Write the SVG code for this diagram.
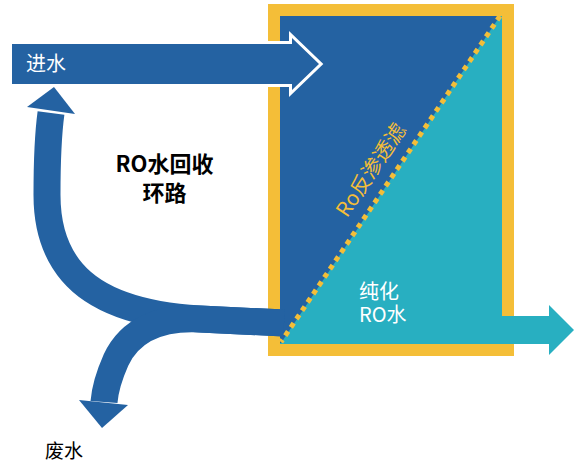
<svg xmlns="http://www.w3.org/2000/svg" width="582" height="463" viewBox="0 0 582 463">
<style>
.blue{fill:#2462a2}
.teal{fill:#28afc1}
.yel{fill:#f4be38}
.band{fill:none;stroke:#2462a2;stroke-width:27;stroke-linecap:butt;stroke-linejoin:round}
.t{font-family:"Noto Sans CJK SC","Noto Sans",sans-serif}
</style>
<rect width="582" height="463" fill="#ffffff"/>
<g id="ro-unit">
  <rect class="yel" x="268" y="4" width="246" height="352"/>
  <rect class="teal" x="280" y="16" width="222" height="328"/>
  <polygon class="blue" points="280,16 500,16 281,343 280,343"/>
</g>
<g id="connectors">
  <path id="recycle" class="band" d="M284 323 L200 319 C150 316 100 305 72 272 C55 252 47 225 47 195 C47 160 48 135 51 113"/>
  <polygon class="blue" points="27,107 54,87 75,114"/>
  <path id="waste-flow" class="band" d="M284 323 L200 319 C160 317 130 330 116 360 C108 378 105 390 104 402"/>
  <polygon class="blue" points="79,400 102,428 128,405"/>
  <polygon id="inlet" class="blue" points="12,44 292,44 292,38 319,64 292,90 292,84 12,84" stroke="#ffffff" stroke-width="6" stroke-linejoin="miter" paint-order="stroke"/>
  <polygon id="outlet" class="teal" points="500,316 549,316 549,305 574,330 549,355 549,344 500,344"/>
</g>
<g id="membrane">
  <line x1="500" y1="16" x2="281" y2="342" stroke="#f4be38" stroke-width="5" stroke-dasharray="5 5"/>
  <text class="t" x="377" y="174" font-size="20.5" fill="#f4be38" text-anchor="middle" transform="rotate(-56.1 377 174)">Ro反渗透滤</text>
</g>
<g id="labels">
  <text class="t" x="26" y="71" font-size="20" fill="#ffffff">进水</text>
  <text class="t" font-size="20" fill="#ffffff"><tspan x="359" y="299">纯化</tspan><tspan x="359" y="321.5">RO水</tspan></text>
  <text class="t" font-size="22" font-weight="bold" fill="#000000" text-anchor="middle"><tspan x="164.5" y="171.5">RO水回收</tspan><tspan x="164.5" y="201">环路</tspan></text>
  <text class="t" x="45" y="458" font-size="19" fill="#000000">废水</text>
</g>
</svg>
